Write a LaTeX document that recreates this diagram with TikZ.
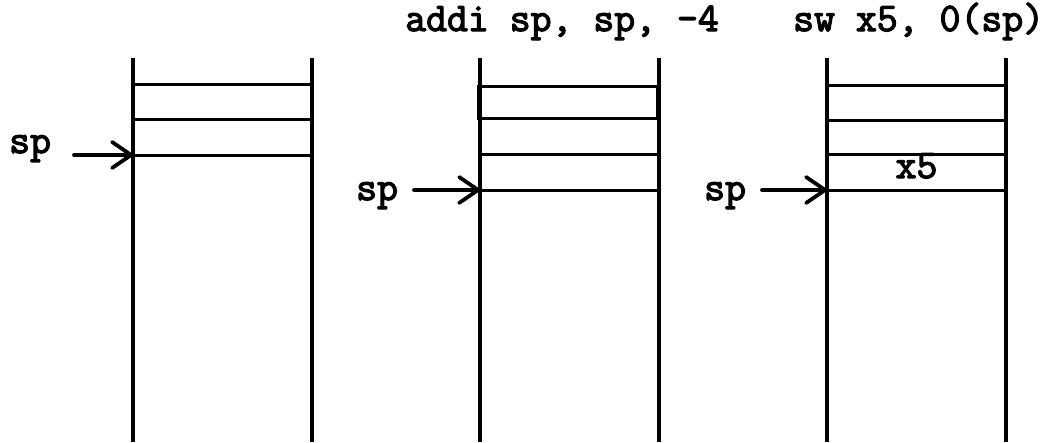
\documentclass[tikz,border=0pt]{standalone}
\usepackage{fontspec}
\newfontfamily\codefont{Latin Modern Mono}[FakeBold=3]
\usetikzlibrary{arrows.meta}
\tikzset{
  wall/.style={line width=3.2pt},
  slot/.style={line width=3pt},
  newslot/.style={line width=3pt},
  code/.style={inner sep=0pt, font=\codefont\bfseries\fontsize{40.6}{44}\selectfont},
  ptr/.style={line width=3.8pt, line cap=round,
    -{Straight Barb[length=19pt,width=26pt,line cap=round,line join=round]}},
}
\begin{document}
\begin{tikzpicture}[x=1pt,y=-1pt]
\useasboundingbox (0,0) rectangle (1051,442);

% instructions above the second and third stacks
\node[code, anchor=base west] (instA) at (405,31) {addi sp, sp, -4};
\node[code, anchor=base west] (instB) at (793,31) {sw x5, 0(sp)};

% stack 1: before
\coordinate (l1t) at (133,58); \coordinate (l1b) at (133,442);
\coordinate (r1t) at (312,58); \coordinate (r1b) at (312,442);
\draw[wall] (l1t) -- (l1b);
\draw[wall] (r1t) -- (r1b);
\foreach \y in {84,119} \draw[slot] (133,\y) -- (312,\y);
\coordinate (p1) at (133,155);
\draw[slot] (p1) -- (312,155);
\node[code, anchor=base west] (sp1) at (9,153) {sp};
\coordinate (a1) at (74,155);
\draw[ptr] (a1) -- (p1);

% stack 2: after addi
\coordinate (l2t) at (480,58); \coordinate (l2b) at (480,442);
\coordinate (r2t) at (659,58); \coordinate (r2b) at (659,442);
\draw[wall] (l2t) -- (l2b);
\draw[wall] (r2t) -- (r2b);
\draw[newslot] (478,86) rectangle (657,118);
\draw[slot] (480,154) -- (659,154);
\coordinate (p2) at (480,190);
\draw[slot] (p2) -- (659,190);
\node[code, anchor=base west] (sp2) at (356,200) {sp};
\coordinate (a2) at (414,190);
\draw[ptr] (a2) -- (p2);

% stack 3: after sw
\coordinate (l3t) at (827,58); \coordinate (l3b) at (827,442);
\coordinate (r3t) at (1006,58); \coordinate (r3b) at (1006,442);
\draw[wall] (l3t) -- (l3b);
\draw[wall] (r3t) -- (r3b);
\foreach \y in {85,120,154} \draw[slot] (827,\y) -- (1006,\y);
\coordinate (p3) at (827,190);
\draw[slot] (p3) -- (1006,190);
\node[code, anchor=base] (x5) at (916.5,178) {x5};
\node[code, anchor=base west] (sp3) at (704,200) {sp};
\coordinate (a3) at (762,190);
\draw[ptr] (a3) -- (p3);
\end{tikzpicture}
\end{document}
